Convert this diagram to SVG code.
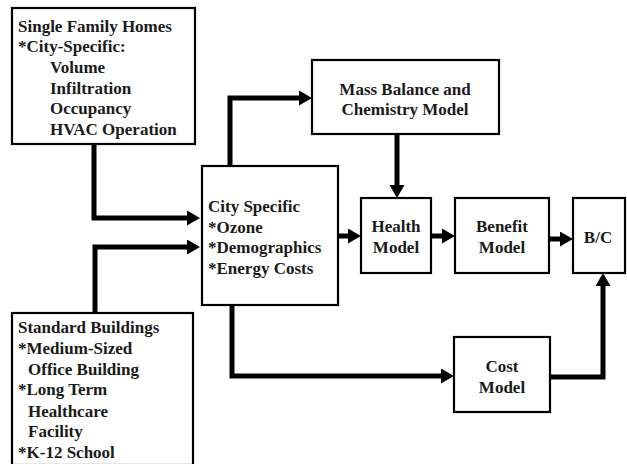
<svg xmlns="http://www.w3.org/2000/svg" width="627" height="464" viewBox="0 0 627 464">
<style>
.box{fill:#fff;stroke:#000;stroke-width:2.2}
text{font-family:"Liberation Serif","Times New Roman",serif;font-weight:bold;font-size:17px;fill:#1a1a1a}
.c{text-anchor:middle}
.con{fill:none;stroke:#000;stroke-width:5;stroke-linejoin:miter;marker-end:url(#ah)}
</style>
<defs>
<marker id="ah" markerUnits="userSpaceOnUse" markerWidth="14" markerHeight="16" refX="0" refY="7.5" orient="auto">
<path d="M0,0 L13,7.5 L0,15 z" fill="#000"/>
</marker>
</defs>
<rect width="627" height="464" fill="#fff"/>
<g id="connectors">
<path class="con" d="M94,144 V218 H187"/>
<path class="con" d="M95,313 V247 H187"/>
<path class="con" d="M230,166 V98 H299"/>
<path class="con" d="M397,134 V185"/>
<path class="con" d="M338,236 H348"/>
<path class="con" d="M431,236 H442"/>
<path class="con" d="M549,239 H560"/>
<path class="con" d="M232,305 V376 H441"/>
<path class="con" d="M550,377 H603 V286"/>
</g>
<g id="single-family">
<rect class="box" x="12" y="8" width="183" height="136"/>
<text x="18" y="32">Single Family Homes</text>
<text x="18" y="52">*City-Specific:</text>
<text x="50" y="73">Volume</text>
<text x="50" y="94">Infiltration</text>
<text x="50" y="114">Occupancy</text>
<text x="50" y="135">HVAC Operation</text>
</g>
<g id="standard-buildings">
<rect class="box" x="12" y="313" width="181" height="152"/>
<text x="18" y="333">Standard Buildings</text>
<text x="18" y="354">*Medium-Sized</text>
<text x="28" y="375">Office Building</text>
<text x="18" y="395">*Long Term</text>
<text x="28" y="417">Healthcare</text>
<text x="28" y="437">Facility</text>
<text x="18" y="458">*K-12 School</text>
</g>
<g id="city-specific">
<rect class="box" x="202" y="166" width="136" height="139"/>
<text x="208" y="212">City Specific</text>
<text x="208" y="233">*Ozone</text>
<text x="208" y="253">*Demographics</text>
<text x="208" y="274">*Energy Costs</text>
</g>
<g id="mass-balance">
<rect class="box" x="312" y="60" width="187" height="74"/>
<text class="c" x="405" y="95">Mass Balance and</text>
<text class="c" x="405" y="115">Chemistry Model</text>
</g>
<g id="health">
<rect class="box" x="361" y="198" width="70" height="75"/>
<text class="c" x="396" y="232">Health</text>
<text class="c" x="396" y="253">Model</text>
</g>
<g id="benefit">
<rect class="box" x="455" y="198" width="94" height="75"/>
<text class="c" x="502" y="232">Benefit</text>
<text class="c" x="502" y="253">Model</text>
</g>
<g id="bc">
<rect class="box" x="573" y="198" width="52" height="75"/>
<text class="c" x="598" y="243">B/C</text>
</g>
<g id="cost">
<rect class="box" x="454" y="337" width="96" height="75"/>
<text class="c" x="502" y="372">Cost</text>
<text class="c" x="502" y="393">Model</text>
</g>
</svg>
